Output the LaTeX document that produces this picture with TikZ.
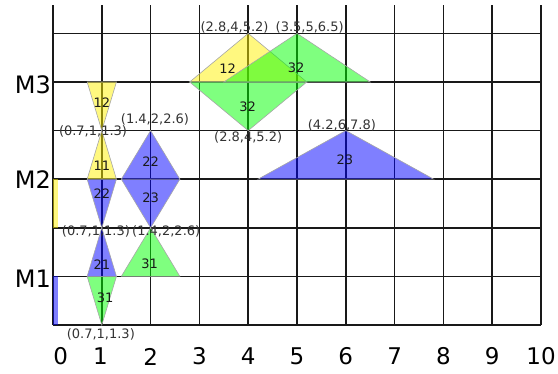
\documentclass[tikz,border=0pt]{standalone}
\usepackage{fontspec}
\setmainfont{DejaVu Sans}
\begin{document}
\begin{tikzpicture}[x=48.8pt,y=48.6pt,
 gridline/.style={line width=1.7pt, black!90},
 tri/.style={draw=gray!70, line width=0.6pt, fill opacity=0.5},
 yel/.style={tri, fill=yellow},
 grn/.style={tri, fill=green},
 blu/.style={tri, fill=blue},
 bar/.style={fill opacity=0.5},
 coordlbl/.style={font=\fontsize{13}{15}\selectfont, text=black!80, inner sep=0pt},
 numlbl/.style={font=\fontsize{13}{15}\selectfont, text=black!90, inner sep=0pt},
 axlbl/.style={font=\fontsize{23}{26}\selectfont, inner sep=0pt},
 mlbl/.style={font=\fontsize{24}{27}\selectfont, inner sep=0pt, anchor=east}]
\useasboundingbox (-1.086,-0.988) rectangle (10.348,6.687);
% grid
\foreach \i in {0,...,10} \draw[gridline] (\i,0) -- (\i,6.58);
\foreach \j in {0,...,6} \draw[gridline] (0,\j) -- (10,\j);
% left bars
\fill[bar, fill=yellow] (0,2) rectangle (0.1,3);
\fill[bar, fill=blue] (0,0) rectangle (0.1,1);
% shapes
\draw[grn] (0.7,1) -- (1.3,1) -- (1,0) -- cycle;
\draw[blu] (0.7,1) -- (1.3,1) -- (1,2) -- cycle;
\draw[grn] (1.4,1) -- (2.6,1) -- (2,2) -- cycle;
\draw[blu] (0.7,3) -- (1.3,3) -- (1,2) -- cycle;
\draw[blu] (1.4,3) -- (2.6,3) -- (2,2) -- cycle;
\draw[blu] (1.4,3) -- (2.6,3) -- (2,4) -- cycle;
\draw[yel] (0.7,3) -- (1.3,3) -- (1,4) -- cycle;
\draw[yel] (0.7,5) -- (1.3,5) -- (1,4) -- cycle;
\draw[blu] (4.2,3) -- (7.8,3) -- (6,4) -- cycle;
\draw[yel] (2.8,5) -- (5.2,5) -- (4,6) -- cycle;
\draw[grn] (2.8,5) -- (5.2,5) -- (4,4) -- cycle;
\draw[grn] (3.5,5) -- (6.5,5) -- (5,6) -- cycle;
% interior numbers
\node[numlbl] (n31a) at (1.07,0.56) {31};
\node[numlbl] (n21) at (1.0,1.25) {21};
\node[numlbl] (n31b) at (1.98,1.25) {31};
\node[numlbl] (n22a) at (1.0,2.7) {22};
\node[numlbl] (n23a) at (2.0,2.61) {23};
\node[numlbl] (n22b) at (2.0,3.37) {22};
\node[numlbl] (n11) at (1.0,3.27) {11};
\node[numlbl] (n12a) at (1.0,4.57) {12};
\node[numlbl] (n12b) at (3.58,5.27) {12};
\node[numlbl] (n32a) at (4.98,5.29) {32};
\node[numlbl] (n32b) at (3.99,4.48) {32};
\node[numlbl] (n23b) at (5.98,3.4) {23};
% coordinate labels
\node[coordlbl] (c1) at (3.72,6.12) {(2.8,4,5.2)};
\node[coordlbl] (c2) at (5.26,6.12) {(3.5,5,6.5)};
\node[coordlbl] (c3) at (4.0,3.85) {(2.8,4,5.2)};
\node[coordlbl] (c4) at (5.92,4.1) {(4.2,6,7.8)};
\node[coordlbl] (c5) at (2.09,4.24) {(1.4,2,2.6)};
\node[coordlbl] (c6) at (0.82,3.99) {(0.7,1,1.3)};
\node[coordlbl] (c7) at (0.88,1.93) {(0.7,1,1.3)};
\node[coordlbl] (c8) at (2.32,1.93) {(1.4,2,2.6)};
\node[coordlbl] (c9) at (0.98,-0.2) {(0.7,1,1.3)};
% axis labels
\node[mlbl] (m3) at (-0.04,4.95) {M3};
\node[mlbl] (m2) at (-0.04,3.0) {M2};
\node[mlbl] (m1) at (-0.04,0.95) {M1};
\node[axlbl] (x0) at (0.16,-0.65) {0};
\node[axlbl] (x1) at (0.97,-0.65) {1};
\foreach \k in {2,...,10} \node[axlbl] (x\k) at (\k,-0.65) {\k};
\end{tikzpicture}
\end{document}
